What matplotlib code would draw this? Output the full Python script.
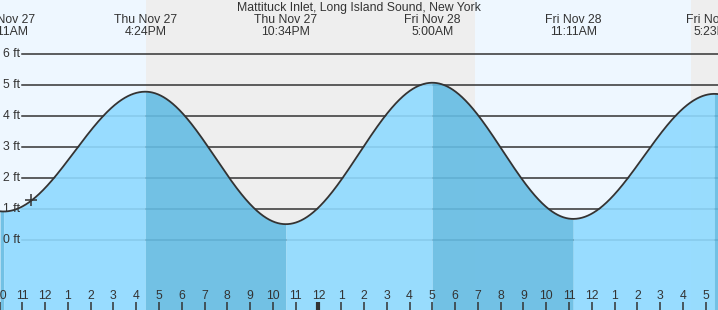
import numpy as np
import matplotlib
matplotlib.use("Agg")
import matplotlib.pyplot as plt
from matplotlib.transforms import blended_transform_factory

# ---- data (hours measured from Thu Nov 27 00:00) ----
title = "Mattituck Inlet, Long Island Sound, New York"
extreme_times = [3.9, 10.183, 16.4, 22.567, 29.0, 35.183, 41.383, 47.6]
extreme_heights = [4.9, 0.91, 4.79, 0.50, 5.08, 0.67, 4.72, 0.45]
extreme_labels = [None, "Thu Nov 27\n10:11AM", "Thu Nov 27\n4:24PM", "Thu Nov 27\n10:34PM",
                  "Fri Nov 28\n5:00AM", "Fri Nov 28\n11:11AM", "Fri Nov 28\n5:23PM", None]
sunset1, sunrise, sunset2 = 16.42, 30.87, 40.36
now_time, now_height = 11.38, 1.28
ft_ticks = [0, 1, 2, 3, 4, 5, 6]
ft_labels = ["0 ft", "1 ft", "2 ft", "3 ft", "4 ft", "5 ft", "6 ft"]
hour_ticks = list(range(10, 42))
hour_labels = [str((h % 12) or 12) for h in hour_ticks]

XMIN, XMAX = 10.02, 41.54
YMIN, YMAX = -2.28, 7.76

DAY_BG = "#eef7ff"
NIGHT_BG = "#eeeeee"
RISE = "#8fdaff"
FALL = "#65bce3"
TXT = "#333333"

plt.rcParams['font.family'] = ['Liberation Sans', 'DejaVu Sans']

fig = plt.figure(figsize=(7.18, 3.10), dpi=100)
ax = fig.add_axes([0, 0, 1, 1])
ax.set_xlim(XMIN, XMAX)
ax.set_ylim(YMIN, YMAX)
ax.axis('off')

# background day / night
ax.axvspan(XMIN, sunset1, color=DAY_BG, zorder=0, lw=0)
ax.axvspan(sunset1, sunrise, color=NIGHT_BG, zorder=0, lw=0)
ax.axvspan(sunrise, sunset2, color=DAY_BG, zorder=0, lw=0)
ax.axvspan(sunset2, XMAX, color=NIGHT_BG, zorder=0, lw=0)

# horizontal grid lines
tr_gl = blended_transform_factory(fig.transFigure, ax.transData)
for v in ft_ticks:
    ax.plot([22 / 718, 1], [v, v], transform=tr_gl, color=TXT, lw=1.1, zorder=1)

# tide curve (cosine between extremes), one piece per rising/falling stretch
all_t, all_h = [], []
for i in range(len(extreme_times) - 1):
    t0, t1 = extreme_times[i], extreme_times[i + 1]
    h0, h1 = extreme_heights[i], extreme_heights[i + 1]
    a, b = max(t0, XMIN), min(t1, XMAX)
    if a >= b:
        continue
    ts = np.linspace(a, b, 400)
    hs = h0 + (h1 - h0) * (1 - np.cos(np.pi * (ts - t0) / (t1 - t0))) / 2
    col = FALL if h1 < h0 else RISE
    ax.fill_between(ts, YMIN, hs, color=col, alpha=0.9, lw=0, zorder=2,
                    antialiased=False)
    all_t.append(ts)
    all_h.append(hs)
ax.plot(np.concatenate(all_t), np.concatenate(all_h), color=TXT, lw=1.3, zorder=3)

# current-time marker
ax.plot([now_time], [now_height], marker='+', ms=9, mew=1.1, color=TXT, zorder=4)

# y labels
tr_yl = blended_transform_factory(fig.transFigure, ax.transData)
for v, lab in zip(ft_ticks, ft_labels):
    ax.text(3 / 718, v, lab, transform=tr_yl, ha='left', va='center',
            fontsize=8.8, color=TXT, zorder=5)

# hour labels and ticks
tr_x = blended_transform_factory(ax.transData, fig.transFigure)
for ht, lab in zip(hour_ticks, hour_labels):
    ax.text(ht, 1 - 296 / 310, lab, transform=tr_x, ha='center', va='center',
            fontsize=8.8, color=TXT, zorder=5)
    lw = 3 if ht % 24 == 0 else 1.1
    ax.plot([ht, ht], [0, 8 / 310], transform=tr_x, color=TXT, lw=lw,
            solid_capstyle='butt', zorder=5)

# extreme labels
for et, lab in zip(extreme_times, extreme_labels):
    if lab is None:
        continue
    ax.text(et, 1 - 26 / 310, lab, transform=tr_x, ha='center', va='center',
            fontsize=8.8, color=TXT, linespacing=0.95, zorder=5)

fig.text(0.5, 1 - 8 / 310, title, ha='center', va='center', fontsize=8.8, color=TXT)

fig.savefig("out.png", dpi=100)
